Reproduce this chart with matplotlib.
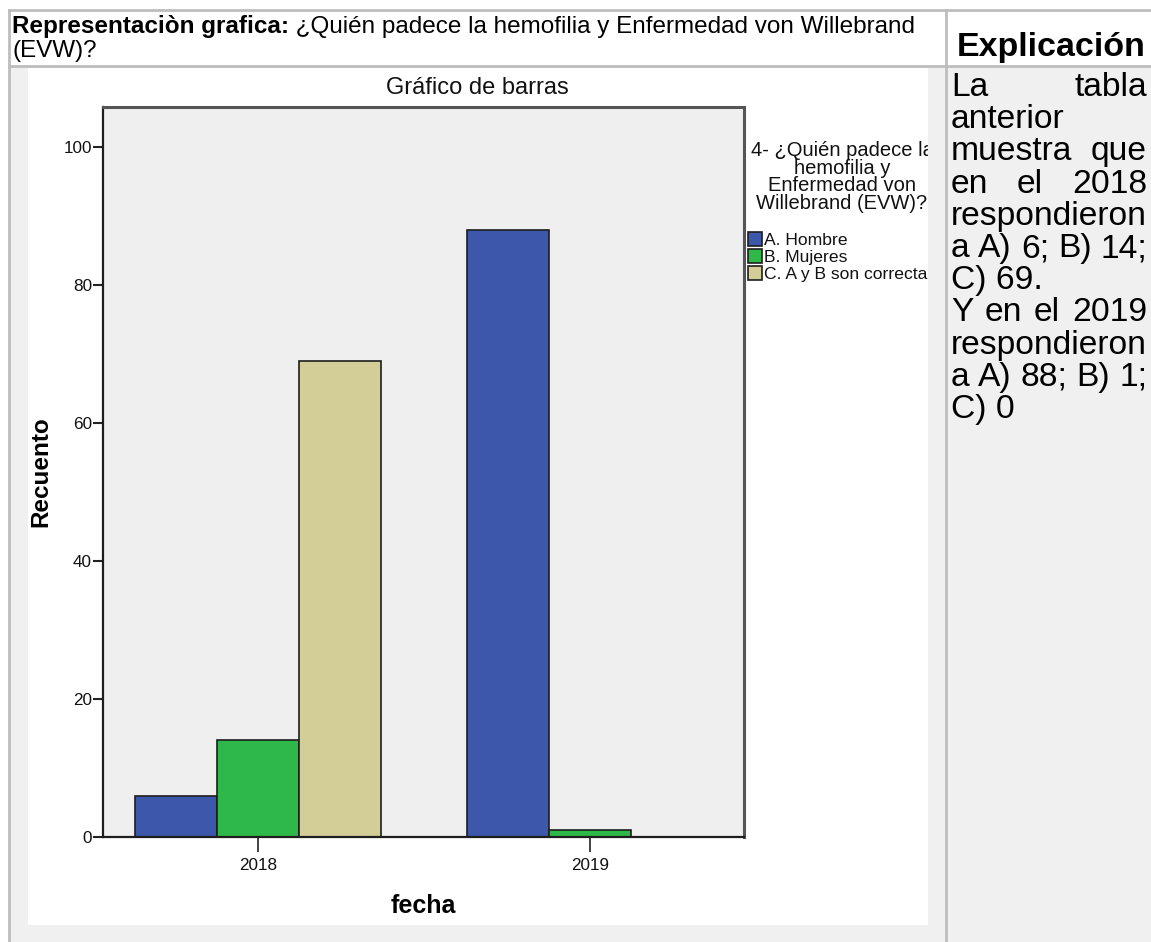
import matplotlib
matplotlib.use('Agg')
import matplotlib.pyplot as plt
from matplotlib.patches import Rectangle
from matplotlib.lines import Line2D
import numpy as np

# datos del grafico
years = ['2018', '2019']
series = ['A. Hombre', 'B. Mujeres', 'C. A y B son correctas']
hombre = [6, 88]
mujeres = [14, 1]
correctas = [69, 0]
colors = ['#3d57ab', '#2fb84a', '#d3ce98']
yticks = [0, 20, 40, 60, 80, 100]

# texto de la columna derecha (linea, justificada?)
expl_lines = [
    ('La tabla', True),
    ('anterior', False),
    ('muestra que', True),
    ('en el 2018', True),
    ('respondieron', False),
    ('a A) 6; B) 14;', True),
    ('C) 69.', False),
    ('Y en el 2019', True),
    ('respondieron', False),
    ('a A) 88; B) 1;', True),
    ('C) 0', False),
]

W, H = 1151, 942
arial = ['Liberation Sans', 'DejaVu Sans']

fig = plt.figure(figsize=(W / 100, H / 100), dpi=100)
fig.patch.set_facecolor('white')


def box(x0, y0, x1, y1):
    # pixel box (origin top-left) -> figure rect
    return [x0 / W, 1 - y1 / H, (x1 - x0) / W, (y1 - y0) / H]


def fx(x):
    return x / W


def fy(y):
    return 1 - y / H


# fondo de la tabla
fig.add_artist(Rectangle((fx(9), 0), 1 - fx(9), fy(66), transform=fig.transFigure,
                         facecolor='#f0f0f0', edgecolor='none', zorder=0))
for (x0, y0, x1, y1) in [(9, 10, W, 10), (9, 66, W, 66), (9, 10, 9, H), (946, 10, 946, H)]:
    fig.add_artist(Line2D([fx(x0), fx(x1)], [fy(y0), fy(y1)], transform=fig.transFigure,
                          color='#bdbdbd', lw=2, zorder=1))

# encabezado
r = fig.canvas.get_renderer()
t1 = fig.text(fx(12), fy(33), 'Representaciòn grafica:', fontsize=17.5, fontweight='bold',
              family=arial, va='baseline')
wb = t1.get_window_extent(r).width
fig.text(fx(12) + wb / W, fy(33), ' ¿Quién padece la hemofilia y Enfermedad von Willebrand',
         fontsize=17.5, family=arial, va='baseline')
fig.text(fx(12), fy(57), '(EVW)?', fontsize=17.5, family=arial, va='baseline')
fig.text(fx(1051), fy(56), 'Explicación', fontsize=24.5, fontweight='bold', family=arial,
         va='baseline', ha='center')

# columna de explicacion, justificada a mano
xl, xr = 951, 1147
for i, (line, just) in enumerate(expl_lines):
    yb = fy(96 + 32.2 * i)
    words = line.split(' ')
    if not just or len(words) == 1:
        fig.text(fx(xl), yb, line, fontsize=24.2, family=arial, va='baseline')
        continue
    ts = [fig.text(0, yb, w, fontsize=24.2, family=arial, va='baseline') for w in words]
    ws = [t.get_window_extent(r).width for t in ts]
    gap = (xr - xl - sum(ws)) / (len(words) - 1)
    pos = xl
    for t, w in zip(ts, ws):
        t.set_x(fx(pos))
        pos += w + gap

# imagen del grafico (fondo blanco)
img = fig.add_axes(box(28, 68, 928, 925), zorder=2)
img.set_facecolor('white')
img.set_xticks([])
img.set_yticks([])
for s in img.spines.values():
    s.set_visible(False)

img.text(fx(477), fy(88), 'Gráfico de barras', transform=fig.transFigure, ha='center',
         va='center', fontsize=17, family=arial, clip_on=True, color='#111111')

ax = fig.add_axes(box(103, 107, 744, 837), zorder=3)
ax.set_facecolor('#efefef')
x = np.arange(len(years))
w = 0.247
bars = []
for i, (vals, c) in enumerate(zip([hombre, mujeres, correctas], colors)):
    b = ax.bar(x + (i - 1) * w, vals, w, color=c, edgecolor='#1e1e1e', linewidth=1.2, zorder=2)
    bars.append(b)

ax.set_xlim(-0.467, 1.464)
ax.set_ylim(0, 105.8)
ax.set_xticks(x)
ax.set_xticklabels(years, family=arial, fontsize=12.3)
ax.set_yticks(yticks)
ax.set_yticklabels([str(v) for v in yticks], family=arial, fontsize=12.3)
ax.tick_params(axis='y', length=7, width=1.5, pad=1, color='#222222', labelcolor='#111111')
ax.tick_params(axis='x', length=11, width=1.2, pad=4, color='#222222', labelcolor='#111111')
for side in ['left', 'bottom']:
    ax.spines[side].set_color('#1e1e1e')
    ax.spines[side].set_linewidth(1.6)
for side in ['top', 'right']:
    ax.spines[side].set_color('#555555')
    ax.spines[side].set_linewidth(2.2)

ax.set_ylabel('Recuento', fontsize=17.5, fontweight='bold', family=arial, labelpad=8)
ax.set_xlabel('fecha', fontsize=18, fontweight='bold', family=arial, labelpad=15)

leg = ax.legend([b[0] for b in bars], series, loc='upper left', bbox_to_anchor=(1.0, 0.958),
                frameon=False, title='4- ¿Quién padece la\nhemofilia y\nEnfermedad von\nWillebrand (EVW)?',
                prop={'family': arial, 'size': 12.6}, title_fontproperties={'family': arial, 'size': 14.5},
                handlelength=0.85, handleheight=0.85, handletextpad=0.12, labelspacing=0.05,
                borderpad=0.2, borderaxespad=0)
leg.get_title().set_multialignment('center')
leg.get_title().set_linespacing(0.9)
leg._legend_box.sep = 14
for t in leg.get_texts() + [leg.get_title()]:
    t.set_clip_box(img.bbox)
    t.set_clip_on(True)
    t.set_color('#111111')

fig.savefig('out.png', dpi=100, facecolor='white')
